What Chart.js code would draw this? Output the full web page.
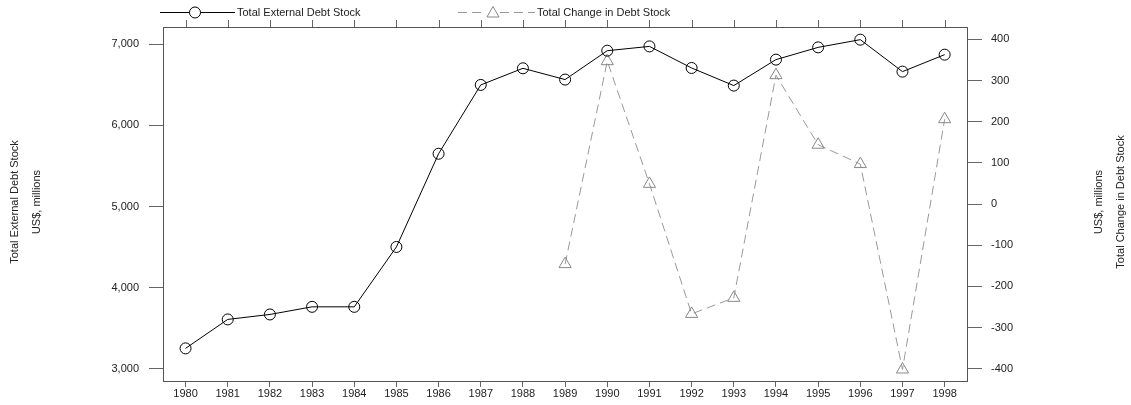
<!DOCTYPE html>
<html lang="en">
<head>
    <meta charset="UTF-8">
    <title>Total External Debt Stock</title>
    <style>
        body {
            margin: 0;
            padding: 0;
            background: #fff;
        }
        .wrap {
            width: 1131px;
            height: 405px;
            position: relative;
        }
    </style>
</head>
<body>
    <div class="wrap">
        <canvas id="debtChart"></canvas>
    </div>

    <script src="https://cdn.jsdelivr.net/npm/chart.js"></script>
    <script>
        // values
        const years = [1980, 1981, 1982, 1983, 1984, 1985, 1986, 1987, 1988, 1989,
                       1990, 1991, 1992, 1993, 1994, 1995, 1996, 1997, 1998];
        const debtStock = [3252, 3609, 3670, 3764, 3764, 4502, 5651, 6499, 6704, 6565,
                           6921, 6974, 6708, 6491, 6811, 6962, 7057, 6663, 6872];
        const changeYears = [1989, 1990, 1991, 1992, 1993, 1994, 1995, 1996, 1997, 1998];
        const debtChange = [-146, 347, 49, -267, -228, 313, 144, 97, -402, 206];
        const leftTicks = [3000, 4000, 5000, 6000, 7000];
        const rightTicks = [-400, -300, -200, -100, 0, 100, 200, 300, 400];

        const FONT = "'Liberation Sans', Arial, sans-serif";
        const TEXT = '#222';
        const AXIS = '#555';
        const TICK = '#666';

        const stockPoints = years.map((yr, i) => ({ x: yr, y: debtStock[i] }));
        const changePoints = changeYears.map((yr, i) => ({ x: yr, y: debtChange[i] }));

        function circle(ctx, x, y, r) {
            ctx.beginPath();
            ctx.arc(x, y, r, 0, Math.PI * 2);
            ctx.stroke();
        }

        function triangle(ctx, x, y, r) {
            ctx.beginPath();
            ctx.moveTo(x, y - r);
            ctx.lineTo(x + r * Math.sin(Math.PI / 3), y + r * 0.5);
            ctx.lineTo(x - r * Math.sin(Math.PI / 3), y + r * 0.5);
            ctx.closePath();
            ctx.stroke();
        }

        // top border, mirrored ticks, legend and axis titles
        const extras = {
            id: 'extras',
            afterDraw(chart) {
                const ctx = chart.ctx;
                const area = chart.chartArea;
                const xs = chart.scales.x;
                ctx.save();

                ctx.strokeStyle = AXIS;
                ctx.lineWidth = 1;
                ctx.beginPath();
                ctx.moveTo(area.left, Math.round(area.top) + 0.5);
                ctx.lineTo(area.right, Math.round(area.top) + 0.5);
                ctx.stroke();

                ctx.strokeStyle = TICK;
                years.forEach(yr => {
                    const px = Math.round(xs.getPixelForValue(yr)) + 0.5;
                    ctx.beginPath();
                    ctx.moveTo(px, area.top);
                    ctx.lineTo(px, area.top - 7);
                    ctx.stroke();
                });

                // legend
                const ly = 12.5;
                ctx.strokeStyle = '#000';
                ctx.beginPath();
                ctx.moveTo(160, ly);
                ctx.lineTo(235, ly);
                ctx.stroke();
                ctx.fillStyle = '#fff';
                ctx.beginPath();
                ctx.arc(195, ly, 5.5, 0, Math.PI * 2);
                ctx.fill();
                circle(ctx, 195, ly, 5.5);

                ctx.strokeStyle = '#999';
                ctx.setLineDash([9, 5]);
                ctx.beginPath();
                ctx.moveTo(458, ly);
                ctx.lineTo(535, ly);
                ctx.stroke();
                ctx.setLineDash([]);
                ctx.fillStyle = '#fff';
                ctx.fillRect(486, ly - 8, 14, 13);
                ctx.strokeStyle = '#888';
                triangle(ctx, 493, ly + 1, 7);

                ctx.fillStyle = TEXT;
                ctx.font = '11px ' + FONT;
                ctx.textBaseline = 'middle';
                ctx.textAlign = 'left';
                ctx.fillText('Total External Debt Stock', 237, ly);
                ctx.fillText('Total Change in Debt Stock', 537, ly);

                // axis titles, both read bottom to top
                const cy = (area.top + area.bottom) / 2 - 2;
                const titles = [
                    ['Total External Debt Stock', 15],
                    ['US$, millions', 37],
                    ['US$, millions', 1099],
                    ['Total Change in Debt Stock', 1121]
                ];
                ctx.textAlign = 'center';
                titles.forEach(([txt, x]) => {
                    ctx.save();
                    ctx.translate(x, cy);
                    ctx.rotate(-Math.PI / 2);
                    ctx.fillText(txt, 0, 0);
                    ctx.restore();
                });

                ctx.restore();
            }
        };

        const ctx = document.getElementById('debtChart').getContext('2d');
        const chart = new Chart(ctx, {
            type: 'line',
            data: {
                datasets: [{
                    label: 'Total External Debt Stock',
                    data: stockPoints,
                    yAxisID: 'y',
                    borderColor: '#000',
                    borderWidth: 1,
                    pointStyle: 'circle',
                    pointRadius: 5.5,
                    pointBorderColor: '#000',
                    pointBorderWidth: 1,
                    pointBackgroundColor: 'rgba(0,0,0,0)',
                    tension: 0
                }, {
                    label: 'Total Change in Debt Stock',
                    data: changePoints,
                    yAxisID: 'y1',
                    borderColor: '#999',
                    borderWidth: 1,
                    borderDash: [9, 5],
                    pointStyle: 'triangle',
                    pointRadius: 7,
                    pointBorderColor: '#888',
                    pointBorderWidth: 1,
                    pointBackgroundColor: 'rgba(0,0,0,0)',
                    tension: 0
                }]
            },
            options: {
                responsive: true,
                maintainAspectRatio: false,
                animation: false,
                layout: { padding: { top: 27 } },
                plugins: {
                    legend: { display: false },
                    tooltip: { enabled: false }
                },
                scales: {
                    x: {
                        type: 'linear',
                        min: 1979.465,
                        max: 1998.53,
                        afterBuildTicks: s => { s.ticks = years.map(v => ({ value: v })); },
                        afterFit: s => { s.height = 24; },
                        border: { display: true, color: AXIS, width: 1 },
                        grid: { drawOnChartArea: false, drawTicks: true, tickLength: 6, tickColor: TICK },
                        ticks: {
                            padding: 0,
                            maxRotation: 0,
                            autoSkip: false,
                            color: TEXT,
                            font: { family: FONT, size: 11 },
                            callback: v => String(v)
                        }
                    },
                    y: {
                        position: 'left',
                        min: 2850,
                        max: 7213,
                        afterBuildTicks: s => { s.ticks = leftTicks.map(v => ({ value: v })); },
                        afterFit: s => { s.width = 163; },
                        border: { display: true, color: AXIS, width: 1 },
                        grid: { drawOnChartArea: false, drawTicks: true, tickLength: 14, tickColor: TICK },
                        ticks: {
                            padding: 10,
                            color: TEXT,
                            font: { family: FONT, size: 11 },
                            callback: v => v.toLocaleString('en-US')
                        }
                    },
                    y1: {
                        position: 'right',
                        min: -430,
                        max: 430,
                        afterBuildTicks: s => { s.ticks = rightTicks.map(v => ({ value: v })); },
                        afterFit: s => { s.width = 164; },
                        border: { display: true, color: AXIS, width: 1 },
                        grid: { drawOnChartArea: false, drawTicks: true, tickLength: 15, tickColor: TICK },
                        ticks: {
                            padding: 9,
                            color: TEXT,
                            font: { family: FONT, size: 11 },
                            callback: v => String(v)
                        }
                    }
                }
            },
            plugins: [extras]
        });
    </script>
</body>
</html>
